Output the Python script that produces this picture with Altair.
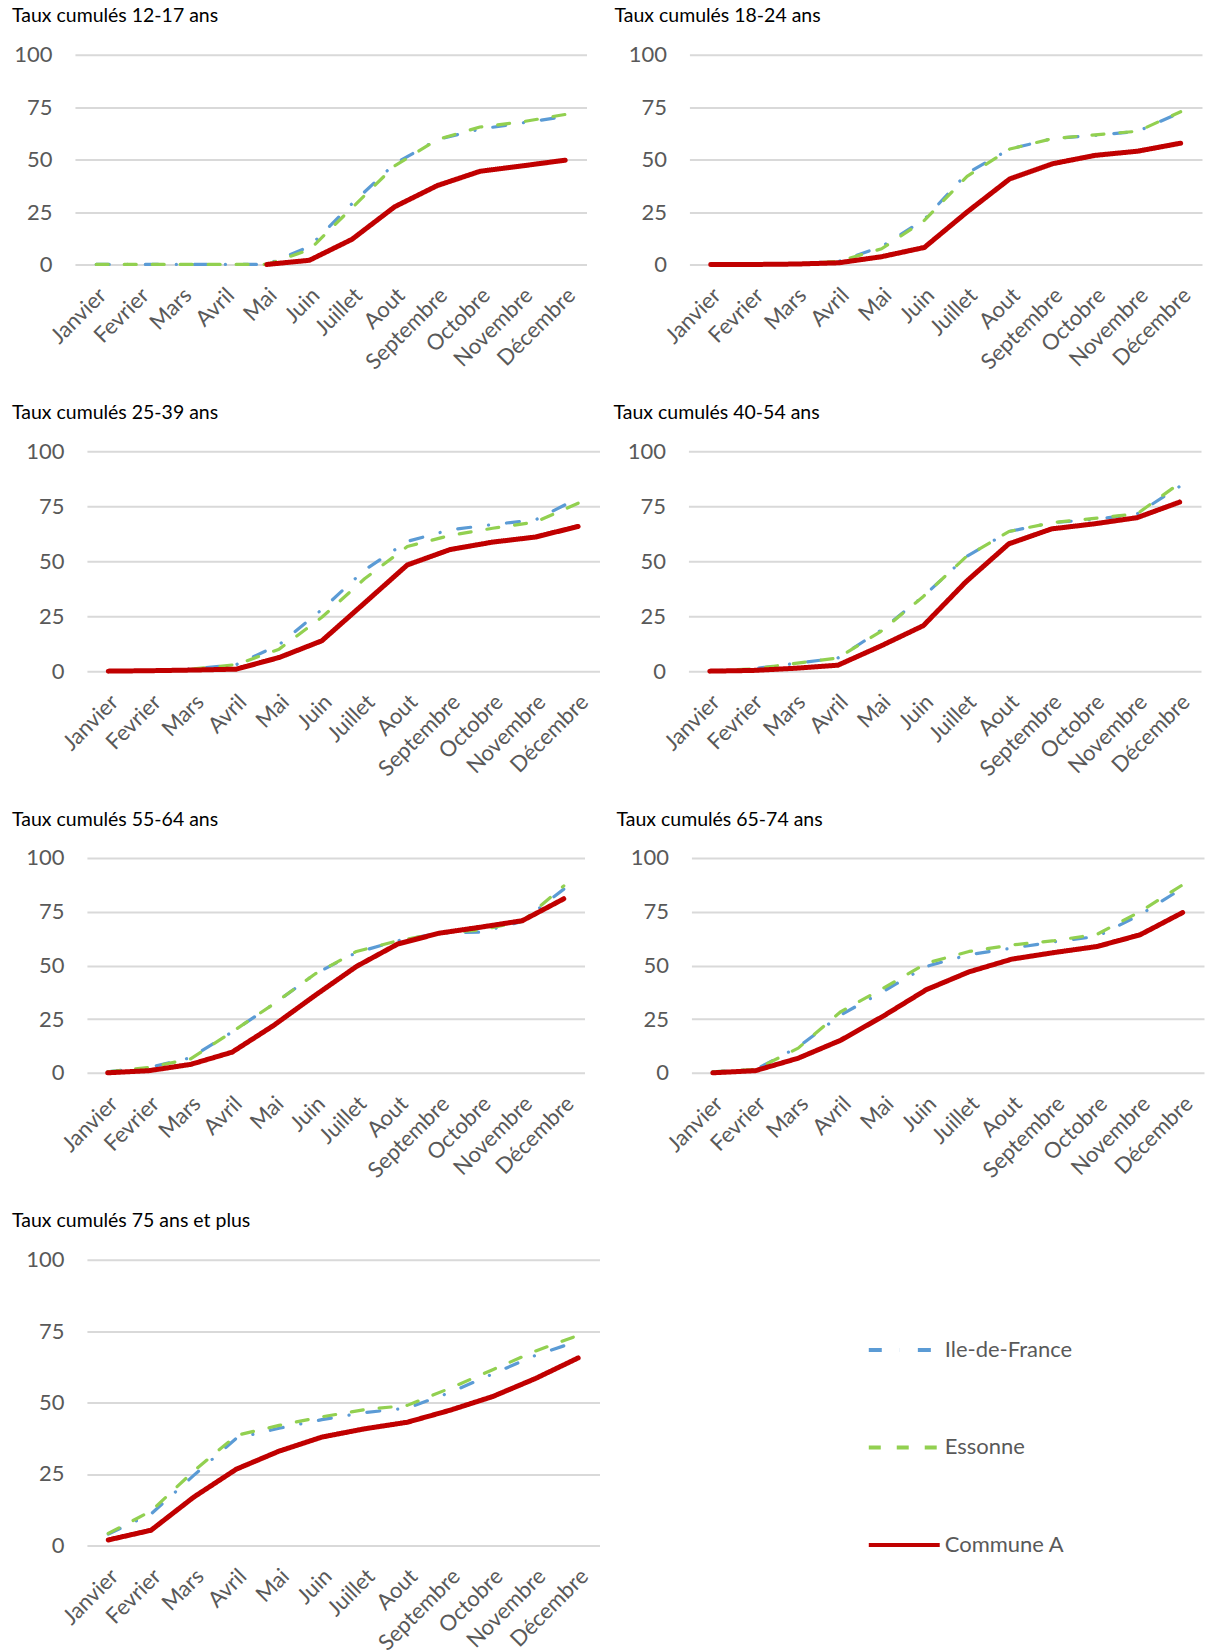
import altair as alt
import pandas as pd

months = ["Janvier", "Fevrier", "Mars", "Avril", "Mai", "Juin", "Juillet",
          "Aout", "Septembre", "Octobre", "Novembre", "Décembre"]
series_names = ["Ile-de-France", "Essonne", "Commune A"]
panel_titles = ["Taux cumulés 12-17 ans", "Taux cumulés 18-24 ans",
                "Taux cumulés 25-39 ans", "Taux cumulés 40-54 ans",
                "Taux cumulés 55-64 ans", "Taux cumulés 65-74 ans",
                "Taux cumulés 75 ans et plus"]
y_ticks = [0, 25, 50, 75, 100]

# 12-17 ans
idf_12_17 = [0, 0, 0, 0, 0, 8.5, 29, 48, 59.5, 64.5, 67.5, 70.5]
ess_12_17 = [0, 0, 0, 0, 0, 7, 27, 47, 59.5, 65.5, 68, 71.5]
com_12_17 = [None, None, None, None, 0, 2, 12, 27.5, 37.6, 44.4, 47, 49.7]
# 18-24 ans
idf_18_24 = [0, 0, 0.3, 1.5, 8.5, 21.5, 43.5, 55, 60, 61.5, 63.5, 72.5]
ess_18_24 = [0, 0, 0.3, 1.5, 7.5, 21, 42, 55, 60, 61.8, 63.5, 72.8]
com_18_24 = [0, 0, 0.2, 0.8, 3.7, 8.1, 25, 40.8, 48, 52, 54, 57.8]
# 25-39 ans
idf_25_39 = [0, 0.3, 1, 3, 12, 28, 46, 59, 64.3, 66.7, 68.8, 78.7]
ess_25_39 = [0, 0.3, 1, 3, 10, 24.5, 42, 56.7, 61.7, 65, 67.8, 76.4]
com_25_39 = [0, 0.2, 0.5, 0.9, 6.2, 13.8, 31, 48.3, 55.3, 58.7, 61, 65.8]
# 40-54 ans
idf_40_54 = [0, 1, 3.5, 6, 18.5, 34, 52, 63.5, 67.5, 69, 71.5, 84]
ess_40_54 = [0, 1, 3.5, 6, 18, 34, 52, 63.5, 67.5, 69.5, 71.5, 85.5]
com_40_54 = [0, 0.3, 1.3, 2.7, 11.4, 20.7, 40.7, 57.9, 64.7, 67, 69.8, 76.9]
# 55-64 ans
idf_55_64 = [0.5, 2.5, 7, 19, 32, 46, 56, 61.5, 65, 65.5, 70.5, 85.5]
ess_55_64 = [0.5, 2.5, 6.5, 19, 32, 46, 56.5, 61.5, 65, 66.5, 70.5, 87]
com_55_64 = [0, 1, 3.9, 9.6, 22, 36, 49.5, 60, 65, 67.8, 70.8, 81]
# 65-74 ans
idf_65_74 = [0.5, 1.5, 12, 27, 38, 49.5, 55, 58, 61, 63.5, 73.5, 86]
ess_65_74 = [0.5, 1.5, 11.5, 28.5, 39.5, 51, 56.5, 59.5, 61.5, 64.5, 75, 87.5]
com_65_74 = [0, 1, 6.8, 15.2, 26.5, 38.7, 47, 52.9, 56, 58.8, 64.2, 74.6]
# 75 ans et plus
idf_75 = [4, 11, 24.5, 37.5, 41, 44, 46.5, 48, 53.5, 60, 66.5, 71.5]
ess_75 = [4.2, 12, 26, 38.5, 42, 45, 47.5, 49, 55, 61.5, 68, 73.5]
com_75 = [1.9, 5.3, 16.9, 26.7, 33, 37.9, 40.8, 43.1, 47.3, 52.1, 58.4, 65.6]

panel_series = [
    (idf_12_17, ess_12_17, com_12_17),
    (idf_18_24, ess_18_24, com_18_24),
    (idf_25_39, ess_25_39, com_25_39),
    (idf_40_54, ess_40_54, com_40_54),
    (idf_55_64, ess_55_64, com_55_64),
    (idf_65_74, ess_65_74, com_65_74),
    (idf_75, ess_75, com_75),
]

rows = []
for title, triple in zip(panel_titles, panel_series):
    for name, vals in zip(series_names, triple):
        for m, v in zip(months, vals):
            if v is not None:
                rows.append({"panel": title, "series": name, "month": m, "value": v})
df = pd.DataFrame(rows)

colors = ["#5B9BD5", "#92D050", "#C00000"]
dashes = [[13, 18, 0.1, 18], [12, 16], [1, 0]]
widths = [3.2, 3.2, 5]
FONT = "Lato"
GREY = "#595959"

x_axis = alt.Axis(labelAngle=-45, labelAlign="right", labelBaseline="middle",
                  labelFontSize=22, labelColor=GREY, labelFont=FONT,
                  ticks=False, domain=False, grid=False, labelPadding=27,
                  labelOffset=6, labelOverlap=False, labelBound=False, title=None)


def y_axis(ext):
    return alt.Axis(values=y_ticks, labelFontSize=22, labelColor=GREY, labelFont=FONT,
                    ticks=False, domain=False, grid=True, gridColor="#D9D9D9",
                    gridWidth=2, labelPadding=23, title=None, minExtent=ext)


def panel(title, w, h, dx, ext):
    layers = []
    for name, wd in zip(series_names, widths):
        layers.append(
            alt.Chart(df)
            .transform_filter((alt.datum.panel == title) & (alt.datum.series == name))
            .mark_line(strokeWidth=wd, strokeCap="round", strokeJoin="round")
            .encode(
                x=alt.X("month:N", sort=months,
                        scale=alt.Scale(domain=months, type="point", padding=0.5),
                        axis=x_axis),
                y=alt.Y("value:Q", scale=alt.Scale(domain=[0, 100]), axis=y_axis(ext)),
                color=alt.Color("series:N",
                                scale=alt.Scale(domain=series_names, range=colors),
                                title=None),
                strokeDash=alt.StrokeDash("series:N",
                                          scale=alt.Scale(domain=series_names, range=dashes),
                                          title=None),
            )
        )
    return alt.layer(*layers).properties(
        width=w, height=h,
        title=alt.TitleParams(text=title, anchor="start", frame="group", fontSize=19.5,
                              font=FONT, fontWeight="normal", color="black",
                              dx=dx, offset=17),
    )


def spacer():
    # invisible 1px cell used only as a left anchor for each row
    return (
        alt.Chart(pd.DataFrame({"a": [0]}))
        .mark_point(size=1, opacity=0, filled=True)
        .encode(x=alt.value(0), y=alt.value(0))
        .properties(width=1, height=1)
    )


cells = [
    spacer(), panel(panel_titles[0], 512, 210, -63, 63), panel(panel_titles[1], 513, 210, -75, 92),
    spacer(), panel(panel_titles[2], 513, 220, -75, 75), panel(panel_titles[3], 513, 220, -75, 79),
    spacer(), panel(panel_titles[4], 498, 215, -75, 75), panel(panel_titles[5], 513, 215, -75, 82),
    spacer(), panel(panel_titles[6], 513, 286, -75, 75),
]

chart = (
    alt.concat(*cells, columns=3, align="none", bounds="full",
               spacing={"row": 29, "column": 10})
    .properties(padding={"left": 0, "top": 5, "right": 5, "bottom": 5})
    .configure_view(stroke=None)
    .configure_legend(orient="none", legendX=866.5, legendY=1259,
                      labelFont=FONT, labelFontSize=22, labelColor=GREY,
                      symbolType="stroke", symbolSize=5041, symbolStrokeWidth=4,
                      rowPadding=48.5, labelOffset=3, title=None)
)

chart.save("out.html", embed_options={"renderer": "svg", "actions": False})
